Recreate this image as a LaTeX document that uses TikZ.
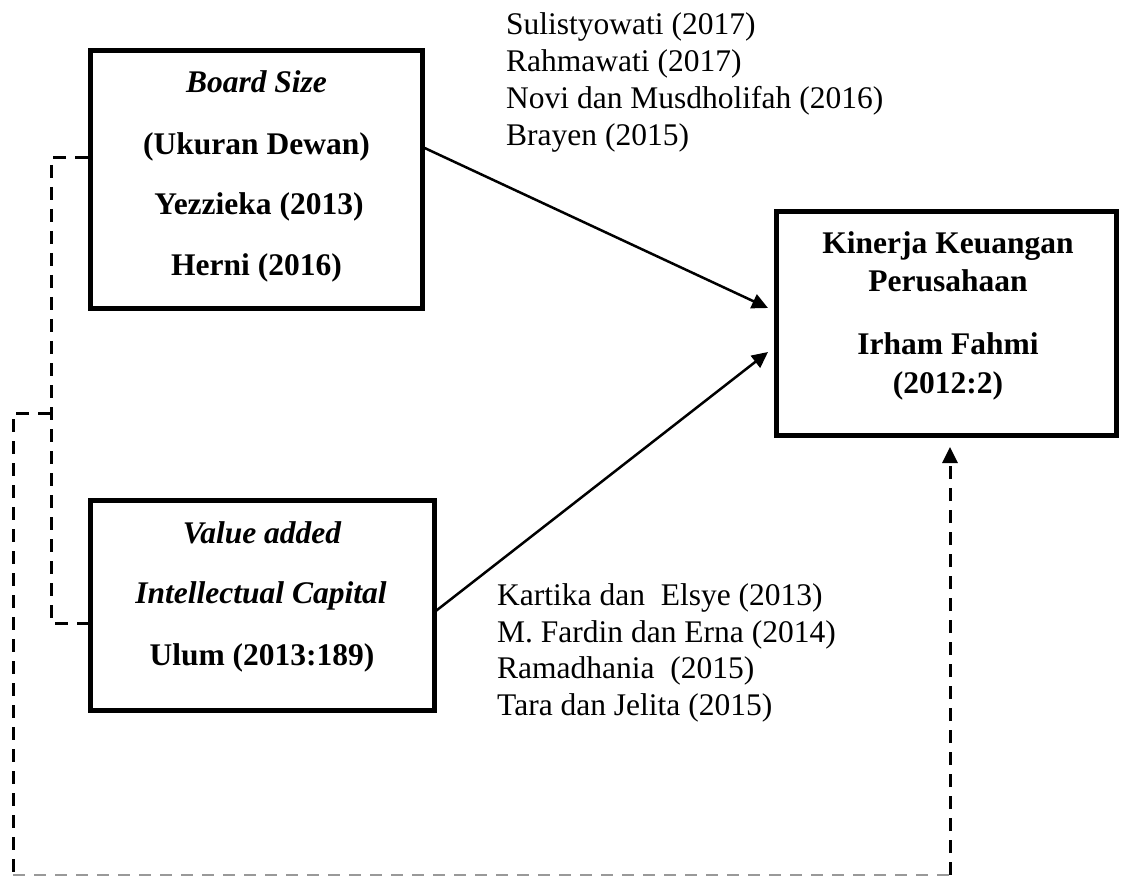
\documentclass[tikz,border=0pt]{standalone}
\usepackage{fontspec}
\setmainfont{Liberation Serif}
\usetikzlibrary{arrows.meta}
\begin{document}
\begin{tikzpicture}[x=1pt,y=-1pt,
  box/.style={draw,line width=5pt,inner sep=0pt},
  txt/.style={inner sep=0pt,anchor=base,font=\fontsize{31.5}{37}\selectfont\bfseries},
  cite/.style={inner sep=0pt,anchor=base west,font=\fontsize{31.5}{37}\selectfont},
  arr/.style={line width=2.5pt,-{Triangle[length=16pt,width=15pt]}},
  dsh/.style={line width=3pt,dash pattern=on 13pt off 9pt},
  dshg/.style={line width=2pt,draw=black!40,dash pattern=on 12pt off 9pt}]
\useasboundingbox (0,0) rectangle (1122,877);
% boxes
\node[box,minimum width=332pt,minimum height=258pt] (bs) at (256.5,179.5) {};
\node[box,minimum width=344pt,minimum height=210pt] (vaic) at (262.5,605.5) {};
\node[box,minimum width=340pt,minimum height=224pt] (kkp) at (946.5,323.5) {};
% box texts
\node[txt] (bs1) at (256.5,93) {\itshape Board Size};
\node[txt] (bs2) at (256.5,155) {(Ukuran Dewan)};
\node[txt] (bs3) at (259,215) {Yezzieka (2013)};
\node[txt] (bs4) at (256.5,276) {Herni (2016)};
\node[txt] (va1) at (262,543) {\itshape Value added};
\node[txt] (va2) at (261,603) {\itshape Intellectual Capital};
\node[txt] (va3) at (262,665) {Ulum (2013:189)};
\node[txt] (kk1) at (948,254) {Kinerja Keuangan};
\node[txt] (kk2) at (948,292) {Perusahaan};
\node[txt] (kk3) at (948,355) {Irham Fahmi};
\node[txt] (kk4) at (948,393) {(2012:2)};
% citations
\node[cite] (c1) at (506,35) {Sulistyowati (2017)};
\node[cite] (c2) at (506,72) {Rahmawati (2017)};
\node[cite] (c3) at (506,109) {Novi dan Musdholifah (2016)};
\node[cite] (c4) at (506,146) {Brayen (2015)};
\node[cite] (d1) at (497,605) {Kartika dan~ Elsye (2013)};
\node[cite] (d2) at (497,642) {M. Fardin dan Erna (2014)};
\node[cite] (d3) at (497,678) {Ramadhania~ (2015)};
\node[cite] (d4) at (497,715) {Tara dan Jelita (2015)};
% connector points
\coordinate (a1s) at (422.5,147);
\coordinate (a1e) at (768,308);
\coordinate (a2s) at (434.5,612);
\coordinate (a2e) at (768,352);
\coordinate (p1) at (88,158);
\coordinate (p2) at (51,158);
\coordinate (p3) at (51,623);
\coordinate (p4) at (88,623);
\coordinate (q1) at (51,413);
\coordinate (q2) at (13,413);
\coordinate (q3) at (13,875);
\coordinate (q4) at (950,875);
\coordinate (q5) at (950,447);
% solid arrows
\draw[arr] (a1s) -- (a1e);
\draw[arr] (a2s) -- (a2e);
% dashed correlations
\draw[dsh] (p1) -- (p2) -- (p3) -- (p4);
\draw[dsh] (q1) -- (q2) -- (q3);
\draw[dshg] (q3) -- (q4);
\draw[dsh,-{Triangle[length=16pt,width=15pt]}] (q4) -- (q5);
\end{tikzpicture}
\end{document}
